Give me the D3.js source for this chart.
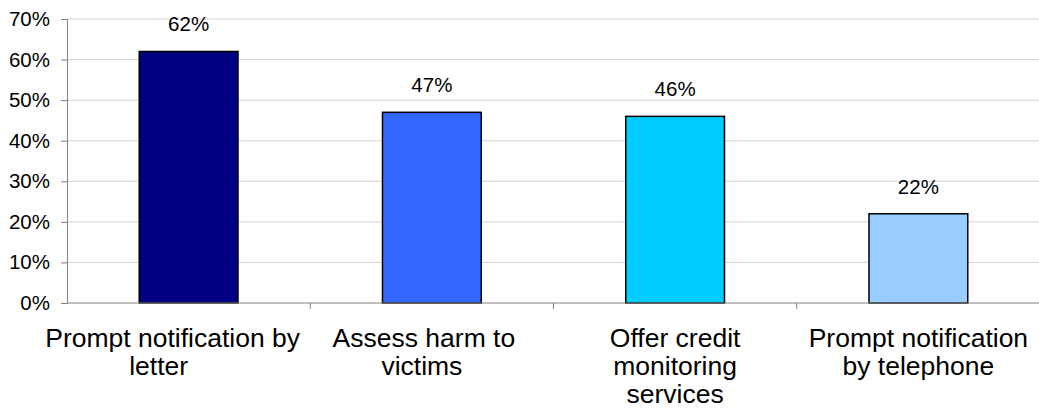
<!DOCTYPE html>
<html>
<head>
<meta charset="utf-8">
<script src="https://cdn.jsdelivr.net/npm/d3@7"></script>
<style>
  html, body { margin: 0; padding: 0; background: #fff; }
  svg { display: block; font-family: "Liberation Sans", Arial, sans-serif; }
</style>
</head>
<body>
<svg id="chart" width="1039" height="408"></svg>
<script>
// Share of respondents choosing each breach response
const categories = [
  ["Prompt notification by", "letter"],
  ["Assess harm to", "victims"],
  ["Offer credit", "monitoring", "services"],
  ["Prompt notification", "by telephone"]
];
const values = [62, 47, 46, 22];
const barColors = ["#000080", "#3366FF", "#00CCFF", "#99CCFF"];
const yTicks = [0, 10, 20, 30, 40, 50, 60, 70];
// horizontal nudge (px) for each line of each category label
const labelNudge = [[-16, -30], [-8, -10], [0, 0, 0], [0, 0]];

const width = 1039, height = 408;
const margin = { top: 19, right: 0, bottom: 105, left: 67 };
const plotW = width - margin.left - margin.right + 1;
const plotH = height - margin.top - margin.bottom;

const svg = d3.select("#chart");
const g = svg.append("g").attr("transform", `translate(${margin.left},${margin.top})`);

const idx = d3.range(values.length);
const x = d3.scaleBand().domain(idx).range([0, plotW]).paddingInner(0.594).paddingOuter(0.297);
const step = x.step();
const y = d3.scaleLinear().domain([0, 70]).range([plotH, 0]);

// horizontal gridlines
g.append("g")
  .selectAll("line")
  .data(yTicks.filter(t => t > 0))
  .join("line")
  .attr("x1", 0).attr("x2", plotW)
  .attr("y1", d => y(d)).attr("y2", d => y(d))
  .attr("stroke", "#d4d4d4").attr("stroke-width", 1);

// y axis
const yAxis = g.append("g")
  .call(d3.axisLeft(y).tickValues(yTicks).tickFormat(d => d + "%").tickSize(6).tickPadding(11));
yAxis.select(".domain").attr("stroke", "#808080");
yAxis.selectAll(".tick line").attr("stroke", "#808080");
yAxis.selectAll(".tick text")
  .attr("fill", "#000")
  .style("font-size", "20.5px")
  .style("font-family", "'Liberation Sans', Arial, sans-serif");

// bars
g.append("g")
  .selectAll("rect")
  .data(values)
  .join("rect")
  .attr("x", (d, i) => x(i))
  .attr("y", d => y(d))
  .attr("width", x.bandwidth())
  .attr("height", d => y(0) - y(d))
  .attr("fill", (d, i) => barColors[i])
  .attr("stroke", "#000")
  .attr("stroke-width", 1.5);

// baseline with category separators
const baseY = y(0);
g.append("line")
  .attr("x1", 0).attr("x2", plotW)
  .attr("y1", baseY).attr("y2", baseY)
  .attr("stroke", "#808080").attr("stroke-width", 1);
g.append("g")
  .selectAll("line")
  .data(d3.range(1, values.length))
  .join("line")
  .attr("x1", d => d * step).attr("x2", d => d * step)
  .attr("y1", baseY).attr("y2", baseY + 6)
  .attr("stroke", "#808080");

// value labels
g.append("g")
  .selectAll("text")
  .data(values)
  .join("text")
  .attr("x", (d, i) => x(i) + x.bandwidth() / 2)
  .attr("y", d => y(d) - 20)
  .attr("text-anchor", "middle")
  .style("font-size", "20.5px")
  .attr("fill", "#000")
  .text(d => d + "%");

// category labels, one tspan per line
const cat = g.append("g")
  .selectAll("text")
  .data(categories.map((lines, i) => ({ lines, i })))
  .join("text")
  .attr("text-anchor", "middle")
  .attr("y", baseY + 44)
  .style("font-size", "26.5px")
  .attr("fill", "#000");
cat.selectAll("tspan")
  .data(d => d.lines.map((t, j) => ({ t, j, i: d.i })))
  .join("tspan")
  .attr("x", d => x(d.i) + x.bandwidth() / 2 + labelNudge[d.i][d.j])
  .attr("dy", d => d.j === 0 ? 0 : 28)
  .text(d => d.t);
</script>
</body>
</html>
